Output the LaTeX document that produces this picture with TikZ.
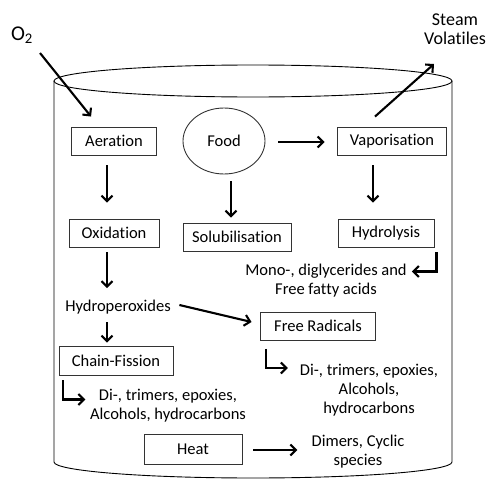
\documentclass[tikz,border=0pt]{standalone}
\usepackage{fontspec}
\setmainfont{Carlito}[Ligatures=NoCommon]
\usetikzlibrary{arrows.meta,shapes.geometric}

\begin{document}
\begin{tikzpicture}[x=1pt, y=-1pt,
    box/.style={draw=black!80, line width=0.9pt, minimum height=28pt, inner sep=0pt, font=\fontsize{16.5}{19}\selectfont},
    lbl/.style={align=center, inner sep=0pt, font=\fontsize{16.5}{19}\selectfont},
    arr/.style={line width=2.1pt, -{Straight Barb[length=5.5pt, width=11pt]}}]
  \useasboundingbox (0,0) rectangle (491,479);
  % vessel
  \draw[line width=0.9pt] (54,81) -- (54,462) arc[start angle=180, end angle=0, x radius=199, y radius=16] -- (452,81);
  \draw[line width=0.9pt] (253,81) ellipse[x radius=199, y radius=16];

  \node[lbl, font=\fontsize{21}{24}\selectfont] (oxy) at (22,35) {O\textsubscript{2}};
  \node[lbl, font=\fontsize{18}{19}\selectfont] (steam) at (455,29) {Steam\\Volatiles};
  \coordinate (oxystart) at (40,53);
  \coordinate (steamend) at (434,64);

  \node[box, minimum width=85pt] (aer) at (114,141) {Aeration};
  \node[draw=black!80, line width=0.9pt, ellipse, inner sep=0pt, minimum width=82pt, minimum height=66pt, font=\fontsize{16.5}{19}\selectfont] (food) at (224,141) {Food};
  \node[box, minimum width=109pt] (vap) at (392,141) {Vaporisation};
  \node[box, minimum width=90pt] (oxd) at (114,233) {Oxidation};
  \node[box, minimum width=108pt] (sol) at (237,237) {Solubilisation};
  \node[box, minimum width=96pt] (hyd) at (386,233) {Hydrolysis};
  \node[lbl] (mono) at (326,281) {Mono-, diglycerides and\\Free fatty acids};
  \node[lbl] (hper) at (118,307) {Hydroperoxides};
  \node[box, minimum width=115pt] (frad) at (318,326) {Free Radicals};
  \node[box, minimum width=114pt, minimum height=29pt] (chf) at (116,361) {Chain-Fission};
  \node[lbl] (chfprod) at (168,406) {Di-, trimers, epoxies,\\Alcohols, hydrocarbons};
  \node[lbl] (fradprod) at (369,390) {Di-, trimers, epoxies,\\Alcohols,\\hydrocarbons};
  \node[box, minimum width=98pt, minimum height=30pt] (heat) at (193,449) {Heat};
  \node[lbl] (dim) at (358,452) {Dimers, Cyclic\\species};

  \draw[arr] (oxystart) -- ([shift={(20,-10)}]aer.north west);
  \draw[arr] ([shift={(-17,-10)}]vap.north) -- (steamend);
  \draw[arr] ([shift={(-7,10)}]aer.south) -- ([shift={(-7,-16)}]oxd.north);
  \draw[arr] ([shift={(-7,5)}]oxd.south) -- ([shift={(-11,-19)}]hper.center);
  \draw[arr] ([shift={(-11,15)}]hper.center) -- ([shift={(-9,-3.5)}]chf.north);
  \draw[arr] ([shift={(8.5,-2)}]hper.east) -- ([shift={(-8.5,-4)}]frad.west);
  \draw[arr] ([shift={(13,1)}]food.east) -- ([shift={(-12.5,1)}]vap.west);
  \draw[arr] ([shift={(7,7)}]food.south) -- ([shift={(-6,-5)}]sol.north);
  \draw[arr] ([shift={(-19,10)}]vap.south) -- ([shift={(-13,-16)}]hyd.north);
  \draw[arr] ([shift={(2,5)}]hyd.south east) |- ([shift={(5,-9.5)}]mono.east);
  \draw[arr] ([shift={(4,4.5)}]chf.south west) |- ([shift={(-4.5,-6.5)}]chfprod.west);
  \draw[arr] ([shift={(5.5,8.5)}]frad.south west) |- ([shift={(-12,-22)}]fradprod.west);
  \draw[arr] ([shift={(11,1)}]heat.east) -- ([shift={(-14,-2)}]dim.west);
\end{tikzpicture}
\end{document}
